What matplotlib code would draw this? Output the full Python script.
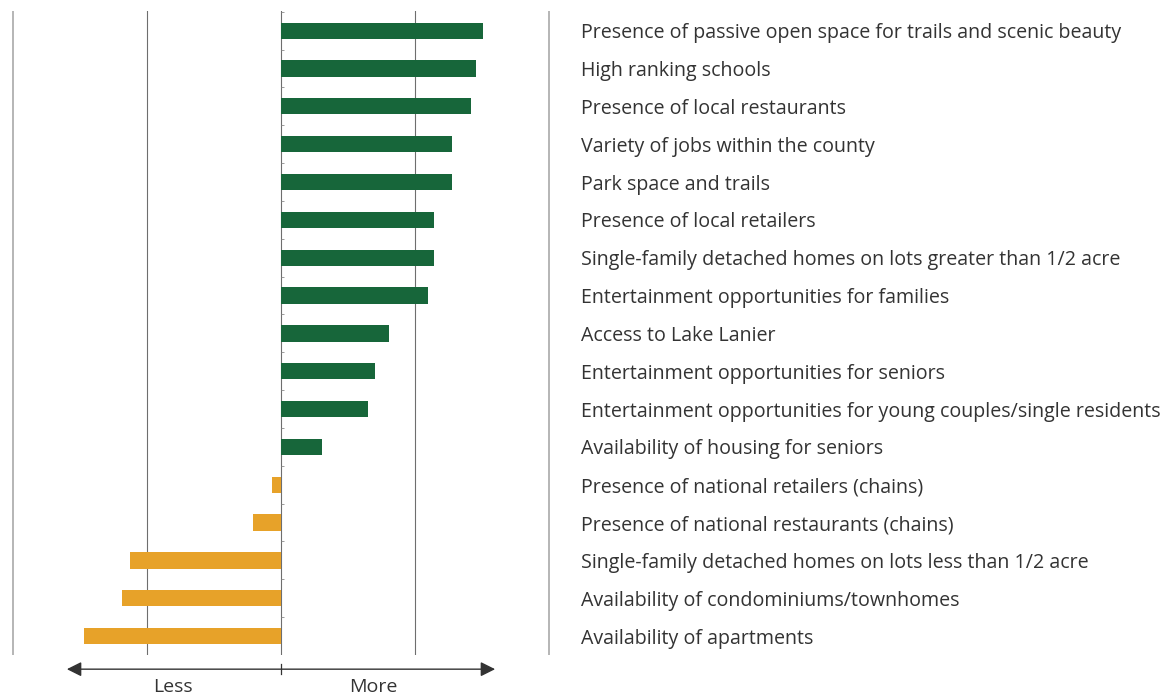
import numpy as np
import matplotlib
matplotlib.use("Agg")
import matplotlib.pyplot as plt

# ── Data ─────────────────────────────────────────────────────────────────────
categories = [
    "Presence of passive open space for trails and scenic beauty",
    "High ranking schools",
    "Presence of local restaurants",
    "Variety of jobs within the county",
    "Park space and trails",
    "Presence of local retailers",
    "Single-family detached homes on lots greater than 1/2 acre",
    "Entertainment opportunities for families",
    "Access to Lake Lanier",
    "Entertainment opportunities for seniors",
    "Entertainment opportunities for young couples/single residents",
    "Availability of housing for seniors",
    "Presence of national retailers (chains)",
    "Presence of national restaurants (chains)",
    "Single-family detached homes on lots less than 1/2 acre",
    "Availability of condominiums/townhomes",
    "Availability of apartments",
]
scores = [1.51, 1.46, 1.42, 1.28, 1.28, 1.14, 1.14, 1.10, 0.81, 0.70, 0.65,
          0.31, -0.07, -0.21, -1.13, -1.19, -1.47]
gridlines = [-2, -1, 0, 1, 2]

GREEN = "#17663a"
GOLD = "#e7a229"
FONT = "Open Sans"
TXT = "#333333"

fig = plt.figure(figsize=(11.65, 6.98), dpi=100)
ax = fig.add_axes([12 / 1165, 1 - 655 / 698, 538 / 1165, 644 / 698])

y = np.arange(len(categories))
colors = [GREEN if s >= 0 else GOLD for s in scores]
ax.barh(y, scores, height=0.43, color=colors, zorder=3)

for g in gridlines:
    edge = abs(g) == 2
    ax.axvline(g, color="#b5b5b5" if edge else "#6e6e6e",
               lw=1.4 if edge else 0.8, zorder=1)

# small ticks between bars on the zero line
ax.hlines(np.arange(len(categories) + 1) - 0.5, 0, 0.025, color="#8a8a8a",
          lw=0.6, zorder=2)

ax.set_xlim(-2.01, 2.01)
ax.set_ylim(16.5, -0.52)
for s in ax.spines.values():
    s.set_visible(False)
ax.set_xticks([])
ax.yaxis.tick_right()
ax.set_yticks(y)
ax.set_yticklabels(categories, fontsize=14.1, family=FONT, color=TXT)
ax.tick_params(axis="y", length=0, pad=22)

# Less / More arrow below the chart
ax.annotate("", xy=(-1.6, -0.022), xytext=(1.6, -0.022),
            xycoords=("data", "axes fraction"),
            arrowprops=dict(arrowstyle="<|-|>", color=TXT, lw=1.0,
                            mutation_scale=22, shrinkA=0, shrinkB=0),
            annotation_clip=False)
ax.plot([0, 0], [-0.03, -0.014], transform=ax.get_xaxis_transform(),
        color=TXT, lw=0.9, clip_on=False)
ax.text(-0.81, -0.05, "Less", transform=ax.get_xaxis_transform(),
        ha="center", va="center", fontsize=14, family=FONT, color=TXT)
ax.text(0.69, -0.05, "More", transform=ax.get_xaxis_transform(),
        ha="center", va="center", fontsize=14, family=FONT, color=TXT)

fig.savefig("out.png", dpi=100)
